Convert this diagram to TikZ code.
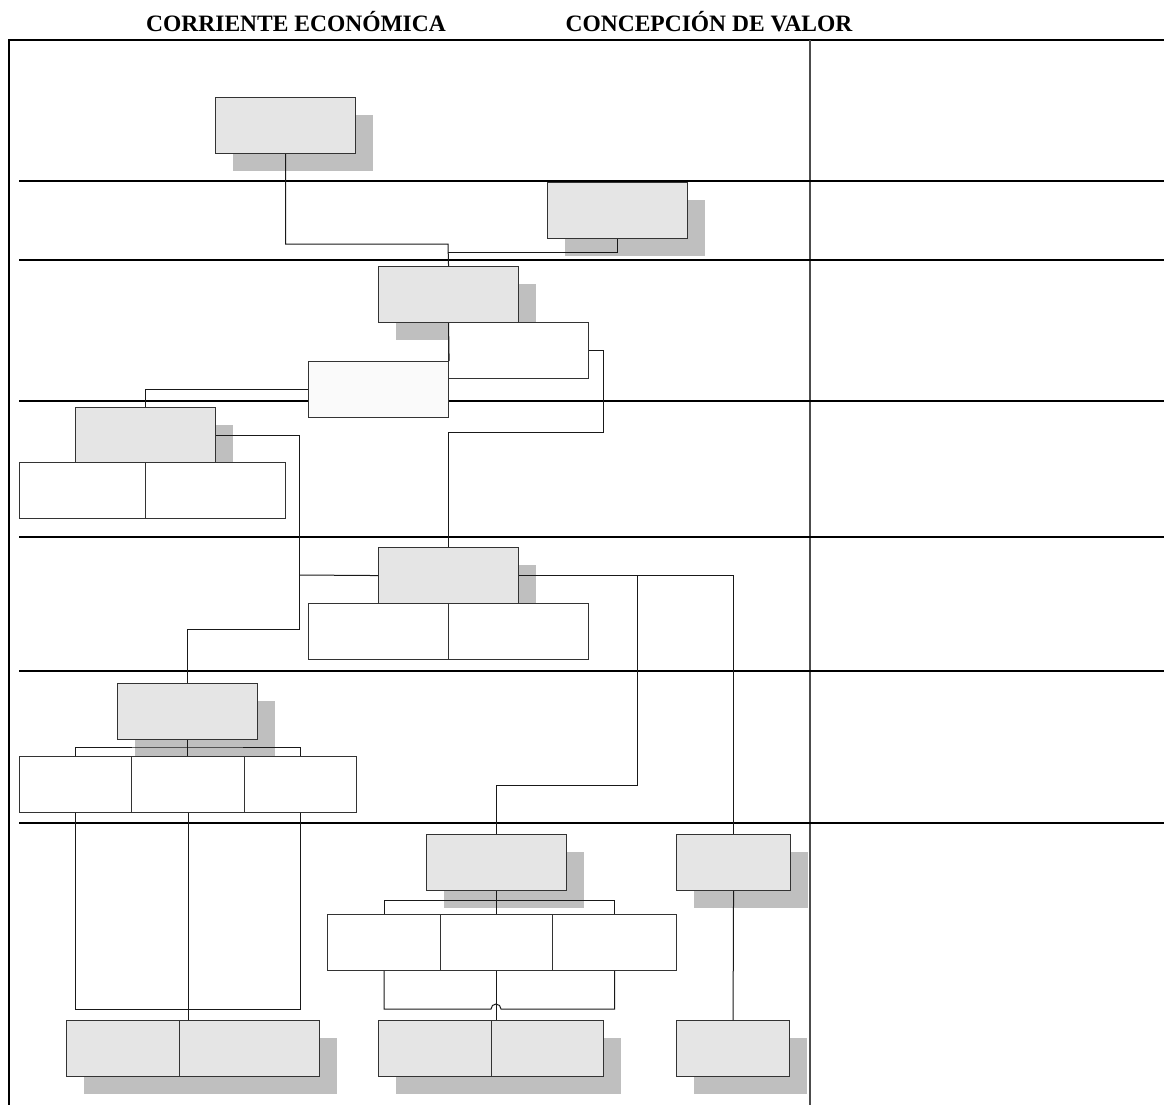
\documentclass[tikz,border=0pt]{standalone}
\usepackage{fontspec}
\setmainfont{Liberation Serif}
\usetikzlibrary{shadows}

\begin{document}
\begin{tikzpicture}[
    x=1pt, y=-1pt,
    box/.style={rectangle, draw=black!80, line width=1.1pt, anchor=north west, inner sep=0pt, minimum width=140pt, minimum height=56pt},
    unit/.style={box, fill=gray!20, drop shadow={shadow xshift=17pt, shadow yshift=-17pt, fill=gray!50, opacity=1}},
    cell/.style={box, fill=white},
    link/.style={draw=black!90, line width=1pt},
    band/.style={draw=black, line width=2.6pt},
    heading/.style={font=\fontsize{23.5}{26}\selectfont\bfseries, anchor=base},
]
\useasboundingbox (0,0) rectangle (1164,1105);

% Frame and columns
\draw[black, line width=1.4pt] (9,1105) -- (9,40) -- (1164,40);
\draw[black!70, line width=1.2pt] (810,40) -- (810,1105);
\foreach \y in {181,260,401,537,671,823}
    \draw[band] (19,\y) -- (1164,\y);

% Titles
\node[heading] (colA) at (296,32) {CORRIENTE ECONÓMICA};
\node[heading] (colB) at (709,32) {CONCEPCIÓN DE VALOR};

% Boxes
\node[unit] (A) at (215,97) {};
\node[unit] (B) at (547,182) {};
\node[unit] (C) at (378,266) {};
\node[cell] (D) at (448,322) {};
\node[box, fill=gray!4] (E) at (308,361) {};

\node[unit] (F) at (75,407) {};
\node[cell, minimum width=126pt] (F1) at (19,462) {};
\node[cell] (F2) at (145,462) {};

\node[unit] (G) at (378,547) {};
\node[cell] (G1) at (308,603) {};
\node[cell] (G2) at (448,603) {};

\node[unit] (H) at (117,683) {};
\node[cell, minimum width=112pt] (H1) at (19,756) {};
\node[cell, minimum width=113pt] (H2) at (131,756) {};
\node[cell, minimum width=112pt] (H3) at (244,756) {};

\node[unit] (I) at (426,834) {};
\node[cell, minimum width=113pt] (I1) at (327,914) {};
\node[cell, minimum width=112pt] (I2) at (440,914) {};
\node[cell, minimum width=124pt] (I3) at (552,914) {};

\node[unit, minimum width=114pt] (J) at (676,834) {};

\node[unit, minimum width=113pt] (K1) at (66,1020) {};
\node[unit] (K2) at (179,1020) {};
\node[unit, minimum width=113pt] (L1) at (378,1020) {};
\node[unit, minimum width=112pt] (L2) at (491,1020) {};
\node[unit, minimum width=113pt] (M) at (676,1020) {};

% Bend points
\coordinate (kAC) at (448,244);
\coordinate (kBC) at (448,252);
\coordinate (kDG) at (603,432);
\coordinate (kFH) at (299,629);
\coordinate (kGW) at (299,575);
\coordinate (kGI) at (637,575);
\coordinate (kGI2) at (637,785);
\coordinate (hbar) at (187,747);
\coordinate (hlow) at (187,1009);
\coordinate (ibar) at (496,900);
\coordinate (ihop) at (491,1009);

% Connectors
\draw[link] (A.south) |- (kAC) -- (C.north);
\draw[link] (B.south) |- (kBC);
\draw[link] (C.south) -- (E.north east);
\draw[link] (E.west) -| (F.north);
\draw[link] (D.east) -| (kDG) -| (G.north);
\draw[link] (F.east) -| (kFH) -| (H.north);
\draw[link] (G.west) -- (kGW);
\draw[link] (G.east) -| (J.north);
\draw[link] (kGI) -- (kGI2) -| (I.north);

\draw[link] (H1.north) |- (hbar) -| (H3.north);
\draw[link] (H.south) -- (H.south |- H2.north);
\draw[link] (H1.south) |- (hlow) -| (H3.south);
\draw[link] (H2.south) -- (H2.south |- K2.north);

\draw[link] (I1.north) |- (ibar) -| (I3.north);
\draw[link] (I.south) -- (I.south |- I2.north);
\draw[link] (I1.south) |- (ihop) arc[start angle=180, end angle=0, radius=5pt] -| (I3.south);
\draw[link] (I2.south) -- (I2.south |- L2.north);

\draw[link] (J.south) -- (M.north);
\end{tikzpicture}
\end{document}
